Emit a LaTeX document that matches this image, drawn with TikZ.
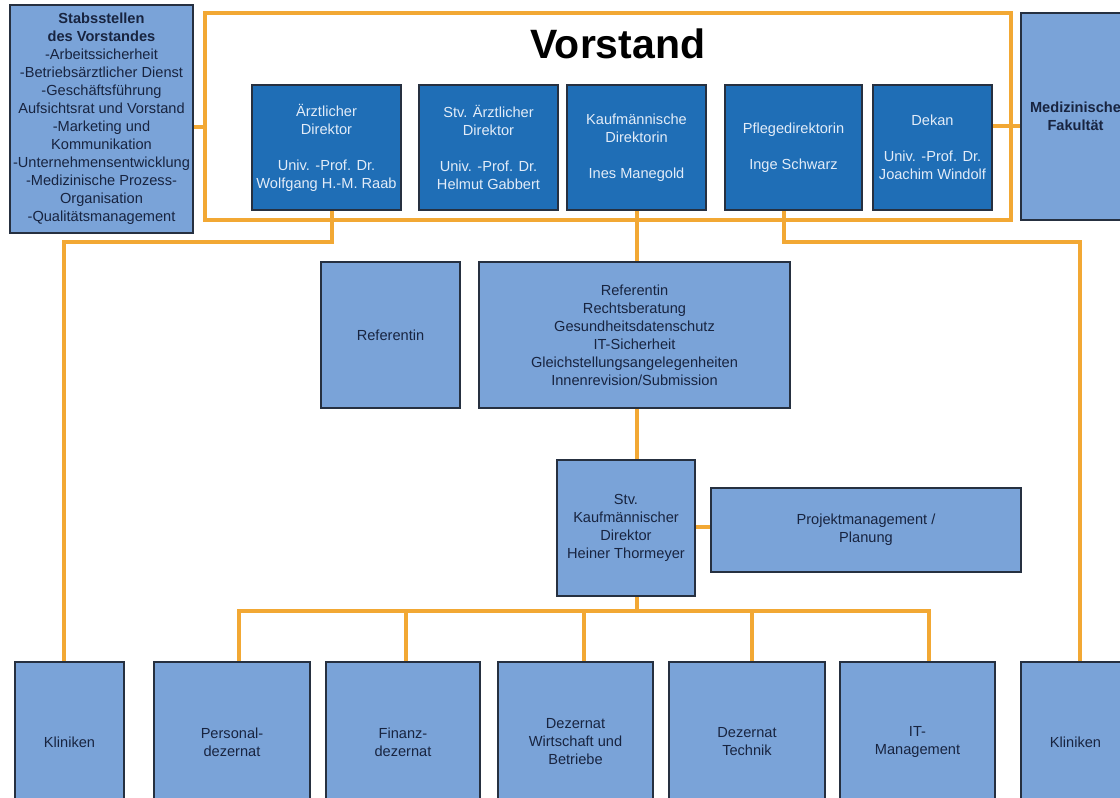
\documentclass[tikz,border=0pt]{standalone}
\usepackage{fontspec}
\setmainfont{Liberation Sans}
\usetikzlibrary{backgrounds}
\definecolor{darkblue}{RGB}{31,110,182}
\definecolor{lightblue}{RGB}{122,163,216}
\definecolor{orangeline}{RGB}{242,168,52}
\definecolor{boxborder}{RGB}{38,48,64}
\definecolor{navytext}{RGB}{24,36,64}
\definecolor{palettext}{RGB}{226,236,248}
\tikzset{
  basebox/.style={draw=boxborder, line width=1.6pt, rectangle, inner sep=0pt, align=center,
    font=\fontsize{14.6}{18}\selectfont},
  darkbox/.style={basebox, fill=darkblue, text=palettext},
  lightbox/.style={basebox, fill=lightblue, text=navytext},
  conn/.style={draw=orangeline, line width=3.4pt},
}
\begin{document}
\begin{tikzpicture}[x=1pt,y=-1pt]
\clip (0,0) rectangle (1120,798);

% Vorstand frame and title
\node[draw=orangeline, line width=3.4pt, minimum width=806pt, minimum height=207pt, inner sep=0pt] (vframe) at (608,116.5) {};
\node[font=\fontsize{41}{44}\selectfont\bfseries, text=black] (vorstand) at (618,44) {Vorstand};

% Stabsstellen
\node[lightbox, minimum width=183pt, minimum height=228pt] (stab) at (101.5,119) {\textbf{Stabsstellen}\\\textbf{des Vorstandes}\\-Arbeitssicherheit\\-Betriebsärztlicher Dienst\\-Geschäftsführung\\Aufsichtsrat und Vorstand\\-Marketing und\\Kommunikation\\-Unternehmensentwicklung\\-Medizinische Prozess-\\Organisation\\-Qualitätsmanagement};

% Board members
\node[darkbox, minimum width=149pt, minimum height=125pt] (aerztl) at (326.5,147.5) {Ärztlicher\\Direktor\\[18pt]Univ. -Prof. Dr.\\Wolfgang H.-M. Raab};
\node[darkbox, minimum width=139pt, minimum height=125pt] (stvaerztl) at (488.5,147.5) {Stv. Ärztlicher\\Direktor\\[18pt]Univ. -Prof. Dr.\\Helmut Gabbert};
\node[darkbox, minimum width=139pt, minimum height=125pt] (kaufm) at (636.5,147.5) {Kaufmännische\\Direktorin\\[18pt]Ines Manegold};
\node[darkbox, minimum width=137pt, minimum height=125pt] (pflege) at (793.5,147.5) {Pflegedirektorin\\[18pt]Inge Schwarz};
\node[darkbox, minimum width=119pt, minimum height=125pt] (dekan) at (932.5,147.5) {Dekan\\[18pt]Univ. -Prof. Dr.\\Joachim Windolf};

% Medizinische Fakultaet
\node[lightbox, minimum width=109pt, minimum height=207pt, font=\fontsize{14.6}{18}\selectfont\bfseries] (fakultaet) at (1075.5,116.5) {Medizinische\\Fakultät};

% Middle
\node[lightbox, minimum width=139pt, minimum height=146pt] (referentin) at (390.5,335) {Referentin};
\node[lightbox, minimum width=311pt, minimum height=146pt] (stabsbig) at (634.5,335) {Referentin\\Rechtsberatung\\Gesundheitsdatenschutz\\IT-Sicherheit\\Gleichstellungsangelegenheiten\\Innenrevision/Submission};
\node[lightbox, minimum width=138pt, minimum height=136pt] (stvkaufm) at (626,528) {Stv.\\Kaufmännischer\\Direktor\\Heiner Thormeyer};
\node[lightbox, minimum width=310pt, minimum height=84pt] (projekt) at (866,530) {Projektmanagement /\\Planung};

% Bottom row
\node[lightbox, minimum width=109pt, minimum height=160pt] (kl1) at (69.5,742) {Kliniken};
\node[lightbox, minimum width=156pt, minimum height=160pt] (pers) at (232,742) {Personal-\\dezernat};
\node[lightbox, minimum width=154pt, minimum height=160pt] (fin) at (403,742) {Finanz-\\dezernat};
\node[lightbox, minimum width=155pt, minimum height=160pt] (dezw) at (575.5,742) {Dezernat\\Wirtschaft und\\Betriebe};
\node[lightbox, minimum width=156pt, minimum height=160pt] (tech) at (747,742) {Dezernat\\Technik};
\node[lightbox, minimum width=155pt, minimum height=160pt] (it) at (917.5,742) {IT-\\Management};
\node[lightbox, minimum width=109pt, minimum height=160pt] (kl2) at (1075.5,742) {Kliniken};

\coordinate (bus) at (637,611);

\begin{pgfonlayer}{background}
\fill[white] (0,0) rectangle (1120,798);
\draw[conn] ([yshift=-8pt]stab.east) -- ([yshift=-8pt]stab.east -| vframe.west);
\draw[conn] ([yshift=21.5pt]dekan.east) -- ([yshift=21.5pt]dekan.east -| fakultaet.west);
\draw[conn] ([xshift=5.5pt]aerztl.south) -- ++(0,31) -| ([xshift=-5.5pt]kl1.north);
\draw[conn] ([xshift=-9.5pt]pflege.south) -- ++(0,31) -| ([xshift=4.5pt]kl2.north);
\draw[conn] (bus |- kaufm.south) -- (bus |- stabsbig.north);
\draw[conn] (bus |- stabsbig.south) -- (bus |- stvkaufm.north);
\draw[conn] (stvkaufm.east |- 0,527) -- (projekt.west |- 0,527);
\draw[conn] (bus |- stvkaufm.south) -- (bus);
\draw[conn] ([xshift=7pt]pers.north) -- ([xshift=7pt]pers.north |- bus) -- ([xshift=11.5pt]it.north |- bus) -- ([xshift=11.5pt]it.north);
\draw[conn] ([xshift=3pt]fin.north) -- ([xshift=3pt]fin.north |- bus);
\draw[conn] ([xshift=8.5pt]dezw.north) -- ([xshift=8.5pt]dezw.north |- bus);
\draw[conn] ([xshift=5pt]tech.north) -- ([xshift=5pt]tech.north |- bus);
\end{pgfonlayer}
\end{tikzpicture}
\end{document}
